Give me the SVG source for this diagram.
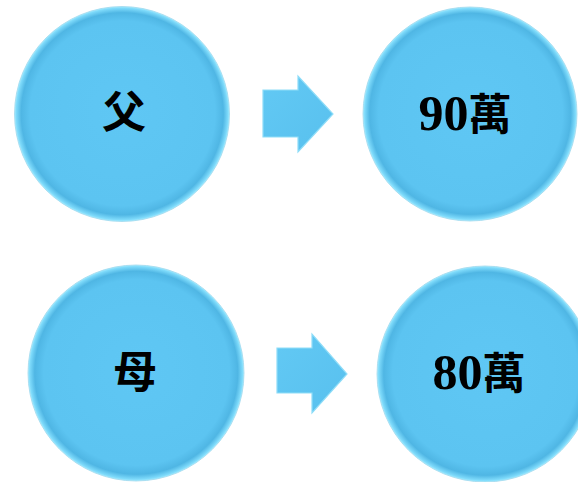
<svg xmlns="http://www.w3.org/2000/svg" width="578" height="482" viewBox="0 0 578 482">
<defs>
<radialGradient id="disc" cx="0.5" cy="0.5" r="0.5" fx="0.52" fy="0.48">
<stop offset="0" stop-color="#5FC7F4"/>
<stop offset="0.86" stop-color="#5CC4F1"/>
<stop offset="0.94" stop-color="#4FB6E4"/>
<stop offset="0.985" stop-color="#7FDBFB"/>
<stop offset="1" stop-color="#A8EEFF"/>
</radialGradient>
<linearGradient id="arr" x1="0" y1="0" x2="1" y2="1">
<stop offset="0" stop-color="#62C9F4"/>
<stop offset="1" stop-color="#58C0EE"/>
</linearGradient>
</defs>
<style>
.disc{fill:url(#disc);stroke:#9FD8EE;stroke-width:0.8}
.arrow{fill:url(#arr);stroke:#8FDDF8;stroke-width:1.2;stroke-linejoin:miter}
.cjk{font-family:"Noto Sans CJK TC","Noto Sans CJK SC",sans-serif;font-weight:700;fill:#000}
.num{font-family:"Liberation Serif",serif;font-weight:700;fill:#000}
</style>
<rect width="578" height="482" fill="#FFFFFF"/>
<g id="connectors">
<polygon class="arrow" points="263,90 298,90 298,76 333,114 298,152 298,137 263,137"/>
<polygon class="arrow" points="277,348 312,348 312,334 347,374 312,413 312,393 277,393"/>
</g>
<g id="node-father">
<circle class="disc" cx="122" cy="114" r="107.5"/>
<text class="cjk" x="124" y="128" font-size="44" text-anchor="middle">父</text>
</g>
<g id="node-90">
<circle class="disc" cx="470" cy="114" r="107"/>
<text x="465" y="130" text-anchor="middle"><tspan class="num" font-size="50">90</tspan><tspan class="cjk" font-size="43">萬</tspan></text>
</g>
<g id="node-mother">
<circle class="disc" cx="136" cy="373" r="108"/>
<text class="cjk" x="135" y="388" font-size="44" text-anchor="middle">母</text>
</g>
<g id="node-80">
<circle class="disc" cx="485" cy="374" r="108"/>
<text x="479" y="389" text-anchor="middle"><tspan class="num" font-size="50">80</tspan><tspan class="cjk" font-size="43">萬</tspan></text>
</g>
</svg>
